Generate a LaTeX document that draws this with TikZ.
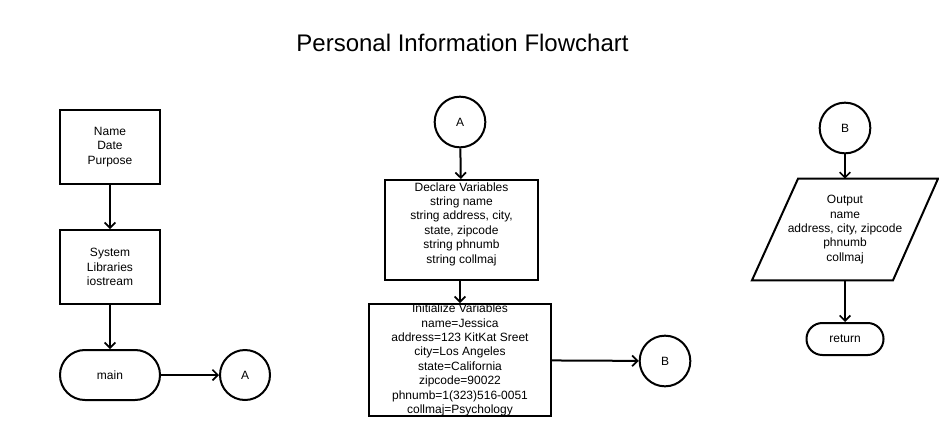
\documentclass[tikz,border=0pt]{standalone}
\usepackage{fontspec}
\setmainfont{Liberation Sans}
\usetikzlibrary{arrows.meta,calc}
\begin{document}
\begin{tikzpicture}[x=0.75pt,y=-0.75pt,
  every node/.style={font=\fontsize{9pt}{10.8pt}\selectfont, align=center, inner sep=0pt},
  box/.style={draw, line width=1.5pt, rectangle},
  term/.style={draw, line width=1.5pt, rectangle},
  conn/.style={draw, line width=1.5pt, circle, minimum size=38pt},
  flow/.style={line width=1.5pt, -{Straight Barb[length=4pt,width=8pt,line width=1.3pt]}},
  shapeline/.style={line width=1.5pt, line join=miter}
]
\useasboundingbox (0,0) rectangle (939,436);

\node[font=\fontsize{18pt}{21pt}\selectfont] (title) at (462.5,43) {Personal Information Flowchart};

% left column
\node[box, minimum width=75pt, minimum height=55.5pt] (hdr) at (110,147) {Name\\Date\\Purpose};
\node[box, minimum width=75pt, minimum height=55.5pt] (sys) at (110,267) {System\\Libraries\\iostream};
\node[term, minimum width=75pt, minimum height=37.5pt, rounded corners=18.7pt] (main) at (110,375) {main};
\node[conn, minimum size=37.5pt] (A1) at (245,375) {A};

% middle column
\node[conn] (A2) at (460,122) {A};
\node[box, minimum width=114.75pt, minimum height=75pt] (decl) at (461.5,230) {Declare Variables\\string name\\string address, city,\\state, zipcode\\string phnumb\\string collmaj\\\mbox{}};
\node[box, minimum width=136.5pt, minimum height=82.5pt] (init) at (460,360) {Initialize Variables\\name=Jessica\\address=123 KitKat Sreet\\city=Los Angeles\\state=California\\zipcode=90022\\phnumb=1(323)516-0051\\collmaj=Psychology};
\node[conn] (B1) at (665,361) {B};

% right column
\node[conn] (B2) at (845,128) {B};
\node[minimum width=105pt, minimum height=75.75pt] (out) at (845,229.5) {Output\\name\\address, city, zipcode\\phnumb\\collmaj};
\draw[shapeline] ($(out.north)+(-47,0)$) -- ($(out.north)+(93,0)$) -- ($(out.south)+(48,0)$) -- ($(out.south)+(-93,0)$) -- cycle;
\node[term, minimum width=57.75pt, minimum height=24pt, rounded corners=11.9pt] (ret) at (845,339) {return};

% connectors
\draw[flow] (hdr) -- (sys);
\draw[flow] (sys) -- (main);
\draw[flow] (main) -- (A1);
\draw[flow] (A2) -- (decl);
\draw[flow] (decl.south -| init.north) -- (init.north);
\draw[flow] (init) -- (B1);
\draw[flow] (B2) -- (out.north);
\draw[flow] (out.south) -- (ret);
\end{tikzpicture}
\end{document}
